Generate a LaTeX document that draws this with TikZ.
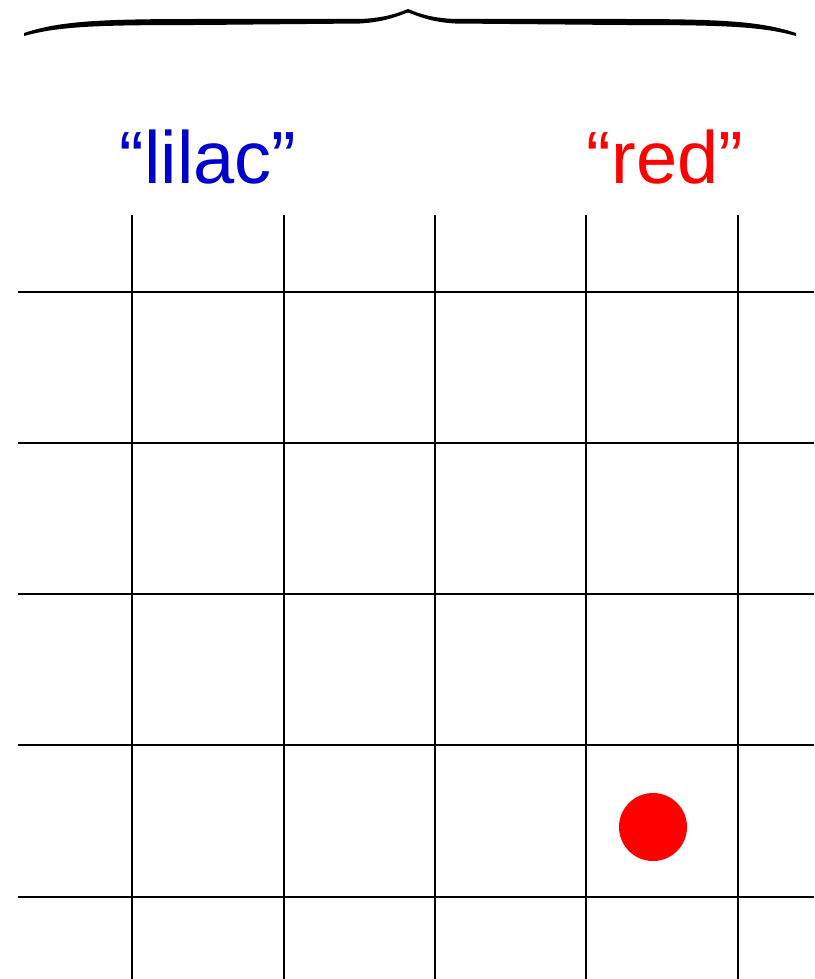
\documentclass[tikz,border=0pt]{standalone}
\usepackage{fontspec}
\setmainfont{Liberation Sans}
\definecolor{lilacblue}{RGB}{0,0,204}
\definecolor{dotred}{RGB}{255,0,0}
\begin{document}
\begin{tikzpicture}[x=1pt,y=-1pt,
  gridline/.style={line width=1.4pt,black},
  label/.style={font=\fontsize{74}{80}\selectfont,anchor=base,inner sep=0pt}]
\useasboundingbox (0,0) rectangle (814,979);
% brace (filled, tapered)
\fill[black, line join=round]
  (24,33) .. controls (60,21) and (100,19) .. (200,19) -- (360,19)
  .. controls (385,18) and (398,13) .. (408,9)
  .. controls (418,13) and (430,18) .. (455,19) -- (620,19)
  .. controls (720,19) and (760,21) .. (796,33)
  -- (796,36)
  .. controls (760,26) and (720,25) .. (620,25) -- (455,23.5)
  .. controls (430,22) and (418,16) .. (408,12.5)
  .. controls (398,16) and (385,22) .. (360,23.5) -- (200,25)
  .. controls (100,25) and (60,26) .. (24,36) -- cycle;
% labels
\node[label,text=lilacblue] (lilac) at (208,183) {“lilac”};
\node[label,text=dotred] (red) at (665,183) {“red”};
% grid
\foreach \x in {132,284,435,586,738} \draw[gridline] (\x,215) -- (\x,979);
\foreach \y in {292,443,594,745,897} \draw[gridline] (18,\y) -- (814,\y);
% dot
\fill[dotred] (653,827) circle (34);
\end{tikzpicture}
\end{document}
